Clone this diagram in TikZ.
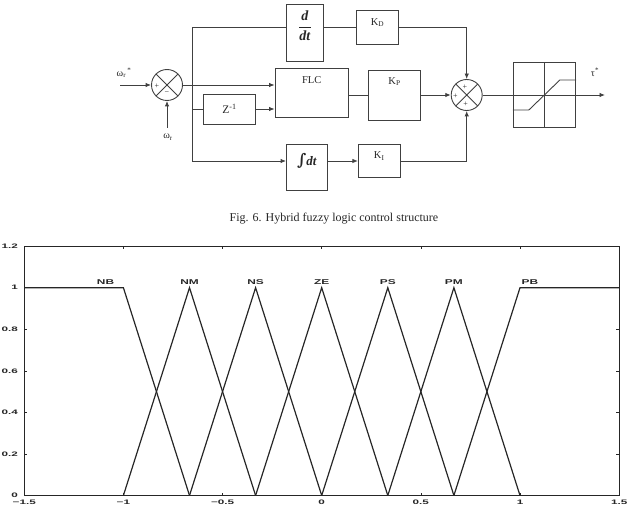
\documentclass[tikz,border=0pt]{standalone}
\usepackage{fontspec}
\setmainfont{Liberation Serif}
\setsansfont{Liberation Sans}
\newfontfamily\intfont{DejaVu Serif}
\usepackage{amsmath}
\usepackage{tikz}
\usetikzlibrary{arrows.meta, positioning, calc}

\begin{document}
\begin{tikzpicture}[
  x=1pt, y=1pt,
  wire/.style={draw=black!75, line width=0.9pt},
  sig/.style={wire, -{Latex[length=5.5pt,width=4.5pt]}},
  blk/.style={rectangle, draw=black!75, line width=0.9pt, inner sep=0pt, font=\fontsize{11.5}{12}\selectfont, text=black!85},
  ttl/.style={label={[anchor=center, yshift=-12pt, font=\fontsize{10.5}{12}\selectfont, text=black!85]north:#1}},
  sumj/.style={circle, draw=black!75, line width=0.9pt, minimum size=31pt, inner sep=0pt,
    path picture={\draw[black!75, line width=0.9pt]
      (path picture bounding box.north west) -- (path picture bounding box.south east)
      (path picture bounding box.north east) -- (path picture bounding box.south west);}},
  sgn/.style={font=\fontsize{8}{8}\selectfont, inner sep=0pt, text=black!85},
  varlbl/.style={font=\fontsize{10}{11}\selectfont, inner sep=0pt, text=black!85},
  mf/.style={line width=1.2pt, black!85},
  ticklbl/.style={font=\sffamily\bfseries\fontsize{6.5}{7}\selectfont, xscale=1.8, inner sep=0pt, text=black!85},
  setlbl/.style={font=\sffamily\bfseries\fontsize{7}{7}\selectfont, xscale=1.7, inner sep=0pt, text=black!85}
]
\useasboundingbox (0,0) rectangle (630,523);

% controller structure
\node[sumj] (sum1) at (167,438) {};
\coordinate (br) at (192.7,438);
\coordinate (in) at (120,438);
\coordinate (fb) at (167,395);
\node[blk, minimum width=36.6pt, minimum height=56.7pt,
  label={[anchor=center, yshift=-21.5pt, font=\fontsize{14}{16}\selectfont, text=black!85]north:{$\displaystyle\frac{\textbf{\textit{d}}}{\textbf{\textit{dt}}}$}}] (ddt) at (305,489.7) {};
\node[blk, minimum width=41.6pt, minimum height=33.3pt, ttl=K\textsubscript{D}] (kd) at (377.5,495.5) {};
\node[blk, minimum width=73.3pt, minimum height=49.4pt, ttl=FLC] (flc) at (311.7,430) {};
\node[blk, minimum width=52.4pt, minimum height=30pt] (zd) at (229.5,414) {Z\textsuperscript{-1}};
\node[blk, minimum width=52.4pt, minimum height=50pt, ttl=K\textsubscript{P}] (kp) at (394.5,428) {};
\node[sumj] (sum2) at (466.7,428) {};
\node[blk, minimum width=41pt, minimum height=46.5pt,
  label={[anchor=center, yshift=-17pt, font=\fontsize{13}{14}\selectfont, text=black!85]north:{{\intfont\bfseries\fontsize{16}{16}\selectfont ∫}\textbf{\textit{dt}}}}] (int) at (307,355.3) {};
\node[blk, minimum width=41.7pt, minimum height=33.4pt, ttl=K\textsubscript{I}] (ki) at (379.2,362) {};
\node[blk, minimum width=62.4pt, minimum height=64.3pt] (sat) at (544.5,428) {};
\coordinate (out) at (605,428);

\node[sgn] (p1) at ([shift={(-10,-1)}]sum1.center) {+};
\node[sgn] (m1) at ([shift={(0,-8)}]sum1.center) {−};
\node[sgn] (p2) at ([shift={(-1.7,7.7)}]sum2.center) {+};
\node[sgn] (p3) at ([shift={(-11.4,-1.7)}]sum2.center) {+};
\node[sgn] (p4) at ([shift={(-1,-9.3)}]sum2.center) {+};

\node[varlbl] (wref) at (124,450) {ω\textsubscript{r}\textsuperscript{\,*}};
\node[varlbl] (wmeas) at (168,386) {ω\textsubscript{r}};
\node[varlbl] (tref) at (595,451) {τ\textsuperscript{*}};

\draw[sig] (in) -- (sum1.west);
\draw[sig] (fb) -- (sum1.south);
\draw[sig] (sum1.east) -- (flc.west |- sum1);
\draw[wire] (br) |- (ddt.west |- kd);
\draw[wire] (ddt.east |- kd) -- (kd.west);
\draw[sig] (kd.east) -| (sum2.north);
\draw[wire] (br) |- (zd.west);
\draw[sig] (zd.east) -- (zd.east -| flc.west);
\draw[wire] (flc.east |- kp) -- (kp.west);
\draw[sig] (kp.east) -- (sum2.west);
\draw[sig] (br) |- (int.west |- ki);
\draw[sig] (int.east |- ki) -- (ki.west);
\draw[sig] (ki.east) -| (sum2.south);
\draw[sig] (sum2.east) -- (out);
\draw[wire] (sat.north) -- (sat.south);
\draw[wire] ([yshift=-15pt]sat.west) -- ++(16,0) -- ++(31,30) -- ([yshift=15pt]sat.east);

\node[font=\fontsize{12}{14}\selectfont, text=black!85] (cap) at (334,304) {Fig. 6. Hybrid fuzzy logic control structure};

% membership functions
\begin{scope}[shift={(321.7,27.5)}, x=198.3pt, y=207.8pt]
  \draw[line width=0.8pt, black!85] (-1.5,0) rectangle (1.5,1.2);
  \foreach \t/\s [count=\i] in {-1.5/−1.5, -1/−1, -0.5/−0.5, 0/0, 0.5/0.5, 1/1, 1.5/1.5} {
    \draw[line width=0.6pt, black!85] (\t,0) -- ++(0,3pt) (\t,1.2) -- ++(0,-3pt);
    \node[ticklbl, anchor=north] (xl\i) at ($(\t,0)+(0,-4pt)$) {\s};
  }
  \foreach \v [count=\i] in {0,0.2,0.4,0.6,0.8,1,1.2} {
    \draw[line width=0.6pt, black!85] (-1.5,\v) -- ++(3pt,0) (1.5,\v) -- ++(-3pt,0);
    \node[ticklbl, anchor=east] (yl\i) at ($(-1.5,\v)+(-6pt,0)$) {\v};
  }
  \draw[mf] (-1.5,1) -- (-1,1) -- (-2/3,0);
  \foreach \k/\n in {-2/NM, -1/NS, 0/ZE, 1/PS, 2/PM} {
    \draw[mf] (\k/3-1/3,0) -- (\k/3,1) -- (\k/3+1/3,0);
    \node[setlbl, anchor=south] (set\n) at ($(\k/3,1)+(0,2.5pt)$) {\n};
  }
  \draw[mf] (2/3,0) -- (1,1) -- (1.5,1);
  \node[setlbl, anchor=south] (setNB) at ($(-1.09,1)+(0,2.5pt)$) {NB};
  \node[setlbl, anchor=south] (setPB) at ($(1.05,1)+(0,2.5pt)$) {PB};
\end{scope}
\end{tikzpicture}
\end{document}
